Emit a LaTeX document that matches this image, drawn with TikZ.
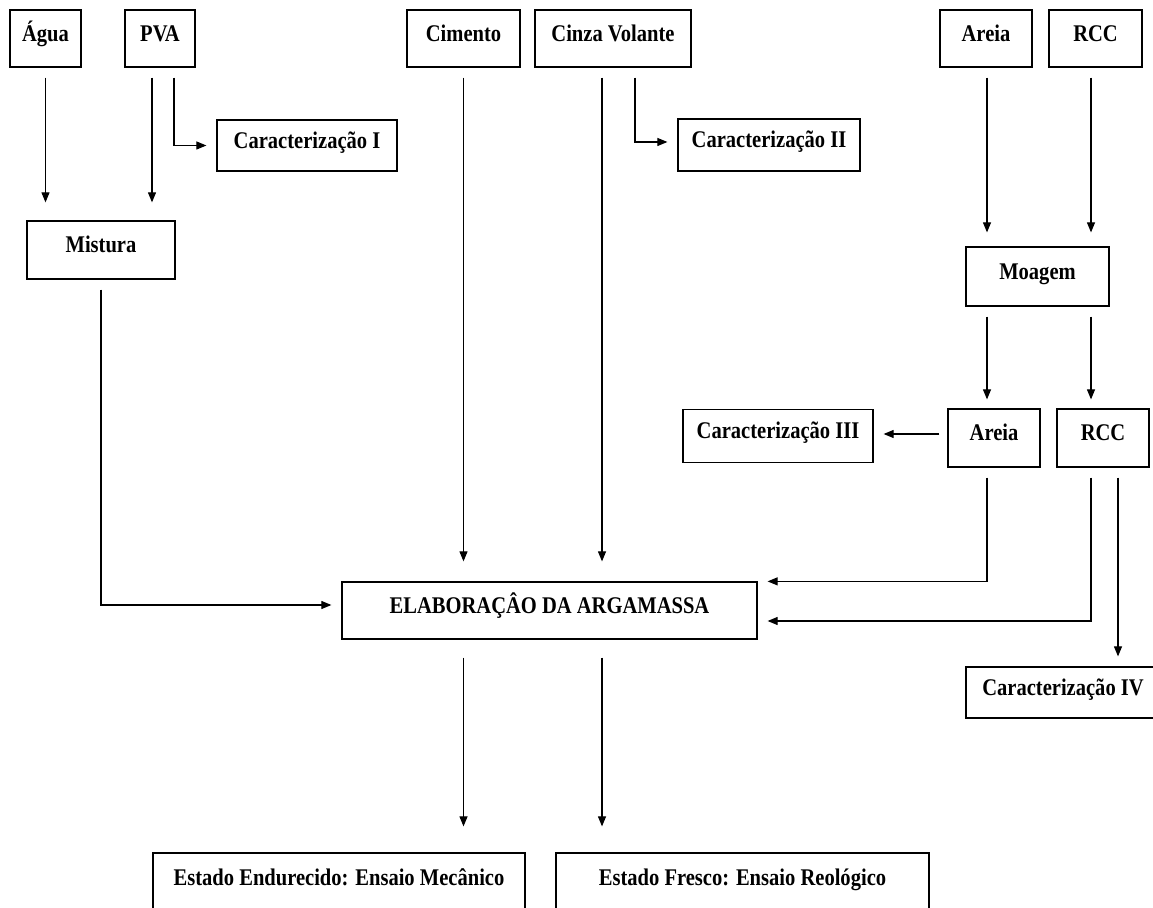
\documentclass[tikz,border=0pt]{standalone}
\usepackage{fontspec}
\setmainfont{Liberation Serif}[FakeStretch=0.86]
\usetikzlibrary{arrows.meta}
\newlength{\pxu}
\setlength{\pxu}{0.02cm}

\begin{document}
\begin{tikzpicture}[x=0.02cm,y=-0.02cm,
  caixa/.style={draw,line width=0.7pt,inner sep=0pt,text height=16\pxu,text depth=10\pxu,
    font=\fontsize{13.6}{16}\selectfont\bfseries},
  seta/.style={line width=0.6pt,-{Triangle[length=2mm,width=1.6mm]},
    shorten <=10\pxu,shorten >=10\pxu}]
\useasboundingbox (0,0) rectangle (1153,908);

% Columns of the long vertical arrows
\coordinate (colA) at (987,0);
\coordinate (colR) at (1091,0);
\coordinate (colV) at (602,0);

% Raw materials
\node[caixa,minimum width=71\pxu,minimum height=57\pxu] (agua) at (45.5,38.5) {Água};
\node[caixa,minimum width=70\pxu,minimum height=57\pxu] (pva) at (160,38.5) {PVA};
\node[caixa,minimum width=113\pxu,minimum height=57\pxu] (cimento) at (463.5,38.5) {Cimento};
\node[caixa,minimum width=156\pxu,minimum height=57\pxu] (cinza) at (613,38.5) {Cinza Volante};
\node[caixa,minimum width=92\pxu,minimum height=57\pxu] (areia) at (986,38.5) {Areia};
\node[caixa,minimum width=93\pxu,minimum height=57\pxu] (rcc) at (1095.5,38.5) {RCC};

% Characterisations
\node[caixa,minimum width=180\pxu,minimum height=51\pxu] (carI) at (307,145.5) {Caracterização I};
\node[caixa,minimum width=182\pxu,minimum height=52\pxu] (carII) at (769,145) {Caracterização II};
\node[caixa,minimum width=190\pxu,minimum height=53\pxu] (carIII) at (778,436) {Caracterização III};
\node[caixa,minimum width=194\pxu,minimum height=51\pxu] (carIV) at (1063,692.5) {Caracterização IV};

% Intermediate steps
\node[caixa,minimum width=148\pxu,minimum height=58\pxu] (mistura) at (101,250) {Mistura};
\node[caixa,minimum width=143\pxu,minimum height=59\pxu] (moagem) at (1037.5,276.5) {Moagem};
\node[caixa,minimum width=92\pxu,minimum height=58\pxu] (areiaB) at (994,438) {Areia};
\node[caixa,minimum width=92\pxu,minimum height=58\pxu] (rccB) at (1103,438) {RCC};

% Mortar and tests
\node[caixa,minimum width=415\pxu,minimum height=57\pxu] (elab) at (549.5,610.5) {ELABORAÇÂO DA ARGAMASSA};
\node[caixa,minimum width=372\pxu,text height=32\pxu,text depth=40\pxu,anchor=base] (endurecido) at (339,885) {Estado Endurecido: Ensaio Mecânico};
\node[caixa,minimum width=373\pxu,text height=32\pxu,text depth=40\pxu,anchor=base] (fresco) at (742.5,885) {Estado Fresco: Ensaio Reológico};

% Drawing arrows to Mistura
\draw[seta,shorten >=18\pxu] (agua.south) -- (agua.south |- mistura.north);
\draw[seta,shorten >=18\pxu] ([xshift=-8\pxu]pva.south) -- ([xshift=-8\pxu]pva.south |- mistura.north);
\draw[seta] ([xshift=14\pxu]pva.south) |- (carI.west);

% Drawing arrows from Cimento and Cinza Volante
\draw[seta,shorten >=20\pxu] (cimento.south) -- (cimento.south |- elab.north);
\draw[seta,shorten >=20\pxu] (cinza.south -| colV) -- (elab.north -| colV);
\draw[seta] ([xshift=22\pxu]cinza.south) |- ([yshift=3\pxu]carII.west);

% Drawing arrows through Moagem
\draw[seta,shorten >=14\pxu] (areia.south -| colA) -- (moagem.north -| colA);
\draw[seta,shorten >=14\pxu] (rcc.south -| colR) -- (moagem.north -| colR);
\draw[seta,shorten >=9\pxu] (moagem.south -| colA) -- (areiaB.north -| colA);
\draw[seta,shorten >=9\pxu] (moagem.south -| colR) -- (rccB.north -| colR);
\draw[seta,shorten <=8\pxu] ([yshift=4\pxu]areiaB.west) -- ([yshift=4\pxu]areiaB.west -| carIII.east);

% Drawing arrows into the mortar
\draw[seta] (mistura.south) |- ([yshift=5.5\pxu]elab.west);
\draw[seta] (areiaB.south -| colA) |- (elab.north east);
\draw[seta] (rccB.south -| colR) |- ([yshift=-10.5\pxu]elab.east);
\draw[seta] ([xshift=15\pxu]rccB.south) -- ([xshift=15\pxu]rccB.south |- carIV.north);

% Drawing arrows to the tests
\draw[seta,shorten <=18\pxu,shorten >=26\pxu] (elab.south -| cimento.south) -- (endurecido.north -| cimento.south);
\draw[seta,shorten <=18\pxu,shorten >=26\pxu] (elab.south -| colV) -- (fresco.north -| colV);
\end{tikzpicture}
\end{document}
